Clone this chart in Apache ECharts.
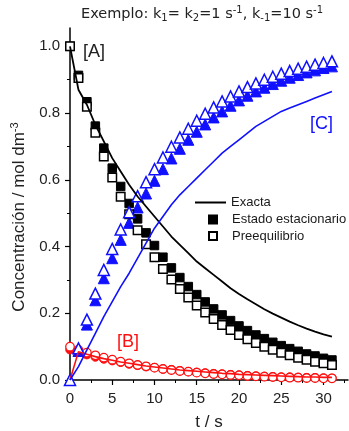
<!DOCTYPE html>
<html>
<head>
<meta charset="utf-8">
<script src="https://cdn.jsdelivr.net/npm/echarts@6/dist/echarts.min.js"></script>
<style>
html,body{margin:0;padding:0;background:#fff;}
#c{width:349px;height:431px;}
</style>
</head>
<body>
<div id="c"></div>
<script>
// time points (s)
var tPts = [0,1,2,3,4,5,6,7,8,9,10,11,12,13,14,15,16,17,18,19,20,21,22,23,24,25,26,27,28,29,30,31];
// [A] estado estacionario (filled squares)
var aSS = [1.000,0.913,0.834,0.761,0.695,0.635,0.580,0.529,0.483,0.441,0.403,0.368,0.336,0.307,0.280,0.256,0.234,0.213,0.195,0.178,0.162,0.148,0.135,0.124,0.113,0.103,0.094,0.086,0.078,0.072,0.065,0.060];
// [A] preequilibrio (open squares)
var aPre = [1.000,0.905,0.819,0.741,0.670,0.607,0.549,0.497,0.449,0.407,0.368,0.333,0.301,0.273,0.247,0.223,0.202,0.183,0.165,0.150,0.135,0.122,0.111,0.100,0.091,0.082,0.074,0.067,0.061,0.055,0.050,0.045];
// [B] estado estacionario (filled circles)
var bSS = [0.091,0.083,0.076,0.069,0.063,0.058,0.053,0.048,0.044,0.040,0.037,0.033,0.031,0.028,0.025,0.023,0.021,0.019,0.018,0.016,0.015,0.013,0.012,0.011,0.010,0.009,0.009,0.008,0.007,0.007,0.006,0.005];
// [B] preequilibrio (open circles)
var bPre = [0.100,0.090,0.082,0.074,0.067,0.061,0.055,0.050,0.045,0.041,0.037,0.033,0.030,0.027,0.025,0.022,0.020,0.018,0.017,0.015,0.014,0.012,0.011,0.010,0.009,0.008,0.007,0.007,0.006,0.006,0.005,0.005];
// [C] estado estacionario (filled triangles)
var cSS = [0.000,0.087,0.166,0.239,0.305,0.365,0.420,0.471,0.517,0.559,0.597,0.632,0.664,0.693,0.720,0.744,0.766,0.787,0.805,0.822,0.838,0.852,0.865,0.876,0.887,0.897,0.906,0.914,0.922,0.928,0.935,0.940];
// [C] preequilibrio (open triangles)
var cPre = [0.000,0.095,0.181,0.259,0.330,0.393,0.451,0.503,0.551,0.593,0.632,0.667,0.699,0.727,0.753,0.777,0.798,0.817,0.835,0.850,0.865,0.878,0.889,0.900,0.909,0.918,0.926,0.933,0.939,0.945,0.950,0.955];
// exact solutions (lines)
var aExact = [1.000,0.870,0.825,0.765,0.715,0.665,0.625,0.585,0.550,0.520,0.490,0.460,0.430,0.405,0.380,0.355,0.335,0.315,0.295,0.275,0.258,0.242,0.227,0.212,0.199,0.187,0.175,0.164,0.154,0.145,0.137,0.130];
var bExact = [0.000,0.085,0.077,0.070,0.064,0.059,0.054,0.050,0.046,0.042,0.039,0.036,0.033,0.030,0.028,0.026,0.024,0.022,0.020,0.019,0.017,0.016,0.015,0.014,0.013,0.012,0.011,0.010,0.009,0.009,0.008,0.008];
var cExact = [0.000,0.040,0.090,0.140,0.190,0.235,0.280,0.320,0.365,0.410,0.455,0.490,0.525,0.555,0.580,0.605,0.630,0.655,0.680,0.700,0.720,0.740,0.760,0.775,0.790,0.805,0.815,0.825,0.835,0.845,0.855,0.865];
var yTicks = [0.0,0.2,0.4,0.6,0.8,1.0];
var xTicks = [0,5,10,15,20,25,30];

function pairs(v){ return tPts.map(function(t,i){ return [t, v[i]]; }); }

var FONT = 'Liberation Sans, Arial, Helvetica, sans-serif';
var TFONT = 'DejaVu Sans, Verdana, sans-serif';
var BLUE = '#1010ff', RED = '#ff1010', BLK = '#000';
var chart = echarts.init(document.getElementById('c'), null, {renderer:'canvas'});

function scatter(name, data, sym, size, fill, stroke, bw, z){
  return {type:'scatter', name:name, data:pairs(data), symbol:sym, symbolSize:size,
    itemStyle:{color:fill, borderColor:stroke, borderWidth:bw, opacity:1}, z:z, silent:true, animation:false};
}
function line(name, data, color, w, z){
  return {type:'line', name:name, data:pairs(data), showSymbol:false, symbol:'none',
    lineStyle:{color:color, width:w}, itemStyle:{color:color}, z:z, silent:true, animation:false};
}

var option = {
  animation:false,
  title:{
    left:81, top:5, padding:0,
    text:'{n|Exemplo: k}{sb|1}{n|= k}{sb|2}{n|=1 s}{sp|-1}{n|, k}{sb|-1}{n|=10 s}{sp|-1}',
    textStyle:{fontWeight:'normal', rich:{
      n:{fontFamily:TFONT, fontSize:14.5, fontWeight:'normal', color:'#222', lineHeight:18},
      sb:{fontFamily:TFONT, fontSize:10, fontWeight:'normal', color:'#222', lineHeight:10, verticalAlign:'bottom'},
      sp:{fontFamily:TFONT, fontSize:10, fontWeight:'normal', color:'#222', lineHeight:10, verticalAlign:'top'}
    }}
  },
  grid:{left:70, right:1, top:28, bottom:51, containLabel:false, outerBoundsMode:'none'},
  xAxis:{
    type:'value', min:0, max:32.9, interval:5,
    name:'t / s', nameLocation:'middle', nameGap:34,
    nameTextStyle:{fontFamily:FONT, fontSize:17, color:'#222'},
    axisLine:{show:true, onZero:false, lineStyle:{color:BLK, width:1.5}},
    axisTick:{show:true, inside:false, length:5, lineStyle:{color:BLK, width:1.2}, customValues:xTicks},
    minorTick:{show:true, splitNumber:2, length:3, lineStyle:{color:BLK, width:1}},
    axisLabel:{fontFamily:FONT, fontSize:15, color:'#222', margin:11, customValues:xTicks},
    splitLine:{show:false}, minorSplitLine:{show:false}
  },
  yAxis:{
    type:'value', min:0, max:1.055, interval:0.2,
    name:'{n|Concentración / mol dm}{sp|-3}', nameLocation:'middle', nameGap:40,
    nameTextStyle:{padding:[0,26,0,0], rich:{
      n:{fontFamily:FONT, fontSize:17, color:'#222', lineHeight:20},
      sp:{fontFamily:FONT, fontSize:11, color:'#222', lineHeight:12, verticalAlign:'top'}
    }},
    axisLine:{show:true, onZero:false, lineStyle:{color:BLK, width:1.5}},
    axisTick:{show:true, inside:false, length:5, lineStyle:{color:BLK, width:1.2}, customValues:yTicks},
    minorTick:{show:true, splitNumber:2, length:3, lineStyle:{color:BLK, width:1}},
    axisLabel:{fontFamily:FONT, fontSize:15, color:'#222', margin:10, customValues:yTicks,
      formatter:function(v){ return v.toFixed(1); }},
    splitLine:{show:false}, minorSplitLine:{show:false}
  },
  legend:[
    {data:[{name:'Exacta', icon:'rect'}], left:195, top:196, orient:'vertical', padding:0,
     itemWidth:31, itemHeight:2, itemGap:0, selectedMode:false,
     textStyle:{fontFamily:FONT, fontSize:13, color:'#1a1a1a'}},
    {data:['Estado estacionario','Preequilibrio'], left:208, top:213, orient:'vertical', padding:0,
     itemWidth:8, itemHeight:8, itemGap:3.5, selectedMode:false, icon:'rect',
     textStyle:{fontFamily:FONT, fontSize:13, color:'#1a1a1a', padding:[0,0,0,10]}}
  ],
  graphic:[
    {type:'text', left:83, top:43, style:{text:'[A]', fontFamily:FONT, fontSize:18, fill:'#222'}},
    {type:'text', left:117, top:333, style:{text:'[B]', fontFamily:FONT, fontSize:18, fill:RED}},
    {type:'text', left:310, top:115, style:{text:'[C]', fontFamily:FONT, fontSize:18, fill:BLUE}}
  ],
  series:[
    scatter('Estado estacionario', aSS, 'rect', 8.5, BLK, BLK, 1, 2),
    scatter('B ss', bSS, 'circle', 8.5, RED, RED, 1, 2),
    scatter('C ss', cSS, 'triangle', 11, BLUE, BLUE, 1, 2),
    scatter('Preequilibrio', aPre, 'rect', 8.5, '#fff', BLK, 1.5, 3),
    scatter('B pre', bPre, 'circle', 8.5, '#fff', RED, 1.3, 3),
    scatter('C pre', cPre, 'triangle', 11, '#fff', BLUE, 1.5, 3),
    line('Exacta', aExact, BLK, 1.8, 4),
    line('B exact', bExact, RED, 1.6, 4),
    line('C exact', cExact, BLUE, 1.6, 4)
  ]
};
chart.setOption(option);
</script>
</body>
</html>
